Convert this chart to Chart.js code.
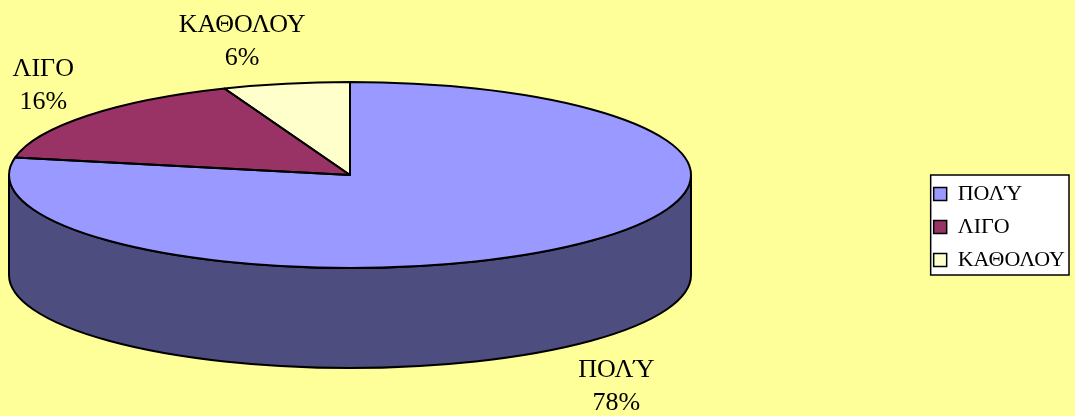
<!DOCTYPE html>
<html>
<head>
<meta charset="utf-8">
<script src="https://cdn.jsdelivr.net/npm/chart.js@4"></script>
<style>
  html, body { margin: 0; padding: 0; background: #FFFF99; }
  canvas { display: block; }
</style>
</head>
<body>
<canvas id="pie3d" width="1075" height="416"></canvas>
<script>
const labels = ['ΠΟΛΎ', 'ΛΙΓΟ', 'ΚΑΘΟΛΟΥ'];
const values = [78, 16, 6];
const topColors = ['#9999FF', '#993366', '#FFFFCC'];
const sideColors = ['#4D4D80', '#4D1A33', '#808066'];

// tilted pie: ellipse centre, radii and the height of the side wall
const CX = 350, CY = 175, RX = 341, RY = 93, DEPTH = 100;
const FONT = '"Liberation Serif", "Times New Roman", serif';
const LEGEND_SIZE = 22;

// parts of an arc that face the viewer (lower half of the ellipse)
function frontParts(a0, a1) {
    const out = [];
    for (const k of [-2, 0, 2]) {
        const lo = Math.max(a0, k * Math.PI);
        const hi = Math.min(a1, k * Math.PI + Math.PI);
        if (hi > lo) out.push([lo, hi]);
    }
    return out;
}

const pie3d = {
    id: 'pie3d',
    beforeDraw(chart) {
        // white legend panel with black frame
        const boxes = chart.legend.legendHitBoxes;
        if (!boxes || !boxes.length) return;
        const left = Math.min(...boxes.map(b => b.left)) - 3;
        const right = Math.max(...boxes.map(b => b.left + b.width)) + 4;
        const top = Math.min(...boxes.map(b => b.top)) - 8;
        const bottom = Math.max(...boxes.map(b => b.top)) + LEGEND_SIZE + 4;
        const ctx = chart.ctx;
        ctx.save();
        ctx.fillStyle = '#FFFFFF';
        ctx.fillRect(left, top, right - left, bottom - top);
        ctx.strokeStyle = '#000';
        ctx.lineWidth = 1.5;
        ctx.strokeRect(left, top, right - left, bottom - top);
        ctx.restore();
    },
    beforeDatasetsDraw(chart) {
        const ctx = chart.ctx;
        const arcs = chart.getDatasetMeta(0).data;
        // side wall
        ctx.save();
        ctx.lineWidth = 2;
        ctx.strokeStyle = '#000';
        arcs.forEach((arc, i) => {
            frontParts(arc.startAngle, arc.endAngle).forEach(([a0, a1]) => {
                ctx.beginPath();
                ctx.ellipse(CX, CY, RX, RY, 0, a0, a1);
                ctx.ellipse(CX, CY + DEPTH, RX, RY, 0, a1, a0, true);
                ctx.closePath();
                ctx.fillStyle = sideColors[i];
                ctx.fill();
                ctx.stroke();
            });
        });
        ctx.restore();
        // squash the round pie into the top ellipse
        const a = arcs[0];
        ctx.save();
        ctx.translate(CX, CY);
        ctx.scale(RX / a.outerRadius, RY / a.outerRadius);
        ctx.translate(-a.x, -a.y);
    },
    afterDatasetsDraw(chart) {
        const ctx = chart.ctx;
        ctx.restore();
        const arcs = chart.getDatasetMeta(0).data;
        const total = values.reduce((s, v) => s + v, 0);
        ctx.save();
        ctx.lineWidth = 2;
        ctx.strokeStyle = '#000';
        ctx.lineJoin = 'round';
        arcs.forEach(arc => {
            ctx.beginPath();
            ctx.moveTo(CX, CY);
            ctx.ellipse(CX, CY, RX, RY, 0, arc.startAngle, arc.endAngle);
            ctx.closePath();
            ctx.stroke();
        });
        // data labels
        ctx.fillStyle = '#000';
        ctx.font = '26px ' + FONT;
        ctx.textAlign = 'center';
        ctx.textBaseline = 'middle';
        arcs.forEach((arc, i) => {
            const mid = (arc.startAngle + arc.endAngle) / 2;
            const c = Math.cos(mid), s = Math.sin(mid);
            const front = s > 0;
            const px = CX + RX * c;
            const py = CY + RY * s + (front ? DEPTH : 0);
            const lx = px + Math.sign(c) * (front ? 49 : 44);
            const ly = py + (front ? s * 43 + 7 : s * 36 - 7);
            ctx.fillText(labels[i], lx, ly - 16.5);
            ctx.fillText(Math.round(values[i] / total * 100) + '%', lx, ly + 16.5);
        });
        ctx.restore();
    }
};

new Chart('pie3d', {
    type: 'pie',
    data: {
        labels: labels,
        datasets: [{
            data: values,
            backgroundColor: topColors,
            borderWidth: 0,
            clip: false
        }]
    },
    options: {
        responsive: false,
        animation: false,
        events: [],
        layout: { padding: { top: 38, right: 0, bottom: 0, left: 0 } },
        plugins: {
            tooltip: { enabled: false },
            legend: {
                position: 'right',
                labels: {
                    color: '#000',
                    font: { family: FONT, size: LEGEND_SIZE },
                    boxWidth: 13,
                    boxHeight: 13,
                    padding: 11,
                    generateLabels(chart) {
                        const items = Chart.overrides.pie.plugins.legend.labels.generateLabels(chart);
                        return items.map(it => Object.assign(it, { strokeStyle: '#000', lineWidth: 1.5 }));
                    }
                }
            }
        }
    },
    plugins: [pie3d]
});
</script>
</body>
</html>
